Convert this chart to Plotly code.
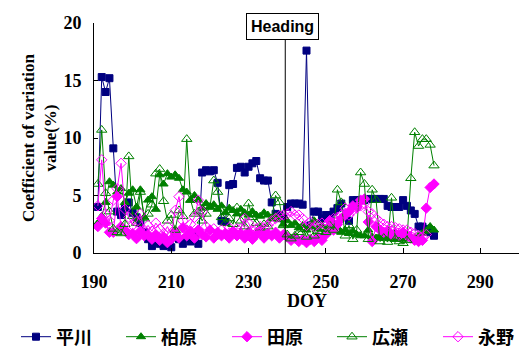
import plotly.graph_objects as go

# Day of year for each observation
doy = list(range(191, 279))

# Coefficient of variation (%) per site
hirakawa = [4.0, 15.3, 14.0, 15.2, 9.1, 3.6, 3.3, 3.9, 4.4, 3.5,
            3.1, 2.6, 1.8, 1.2, 0.6, 1.0, 0.8, 0.6, 0.7, 0.5,
            1.4, 1.2, 0.8, 1.3, 1.0, 1.5, 0.8, 7.0, 7.2, 7.1,
            7.2, 6.1, 2.8, 2.7, 5.9, 6.0, 7.4, 7.5, 7.0, 7.5,
            7.8, 8.0, 6.5, 6.3, 6.3, 4.4, 3.4, 3.3, 3.0, 4.0,
            4.3, 4.3, 4.3, 4.2, 17.6, 2.4, 3.6, 3.6, 3.0, 3.3,
            3.3, 3.6, 3.9, 4.3, 3.1, 2.8, 4.6, 4.6, 4.6, 4.6,
            4.7, 4.7, 4.7, 4.7, 4.7, 4.1, 4.0, 4.0, 4.0, 4.6,
            4.1, 3.7, 3.4, 2.3, 2.3, 2.1, 1.8, 1.5]

kashiwabara = [2.6, 3.2, 4.4, 6.2, 5.9, 5.3, 5.6, 4.4, 5.2, 5.5,
               4.0, 5.5, 3.1, 4.6, 4.9, 3.8, 6.8, 6.0, 6.9, 6.6,
               6.8, 6.5, 5.5, 5.3, 4.6, 5.0, 4.6, 3.9, 4.3, 4.0,
               4.2, 3.8, 4.1, 3.5, 3.9, 3.7, 3.4, 3.8, 3.5, 3.3,
               3.6, 3.3, 3.2, 3.5, 3.3, 3.0, 3.2, 2.9, 2.5, 2.8,
               2.4, 2.6, 2.2, 2.4, 2.0, 2.3, 2.8, 2.1, 2.4, 2.0,
               2.3, 1.9, 2.2, 1.8, 2.0, 1.7, 1.9, 1.6, 1.5, 1.5,
               2.0, 1.4, 1.3, 1.5, 1.3, 1.45, 1.25, 1.3, 1.4, 1.2,
               1.3, 1.25, 1.3, 1.5, 1.7, 1.9, 2.3, 2.0]

tahara = [2.3, 3.0, 2.6, 1.8, 1.8, 4.9, 2.3, 2.0, 1.6, 1.7,
          1.25, 1.9, 1.5, 1.6, 1.2, 1.6, 1.1, 1.4, 0.9, 1.2,
          1.8, 1.3, 2.2, 1.5, 1.9, 1.3, 2.0, 1.6, 1.4, 2.0,
          1.3, 1.8, 1.5, 1.7, 1.3, 1.9, 1.5, 1.7, 1.3, 1.8,
          1.2, 1.6, 1.9, 1.3, 1.7, 1.5, 1.8, 1.3, 1.6, 1.4,
          1.1, 1.3, 1.0, 1.2, 0.9, 1.2, 1.0, 1.4, 1.1, 1.6,
          2.8, 2.0, 2.5, 3.0, 3.3, 3.6, 4.1, 4.0, 4.6, 4.7,
          2.7, 1.0, 2.3, 2.0, 1.8, 1.9, 1.6, 1.7, 1.5, 1.8,
          1.5, 1.3, 1.1, 1.0, 1.1, 3.9, 5.7, 6.0]

hirose = [6.0, 10.7, 5.2, 3.6, 2.1, 1.8, 1.7, 2.5, 8.4, 3.2,
          2.6, 5.3, 3.0, 3.4, 4.2, 6.9, 7.3, 4.5, 2.8, 3.3,
          2.0, 3.7, 3.2, 9.9, 4.6, 3.4, 3.6, 2.8, 3.4, 4.0,
          6.3, 5.3, 3.1, 2.6, 3.0, 2.5, 3.95, 2.8, 2.3, 4.3,
          3.1, 2.6, 2.2, 2.5, 2.3, 3.0, 5.0, 4.4, 2.4, 1.6,
          1.25, 1.5, 1.8, 2.1, 1.4, 2.4, 1.5, 1.9, 2.1, 1.8,
          2.4, 2.0, 5.5, 4.4, 1.5, 2.4, 1.2, 2.0, 7.0, 6.0,
          1.2, 5.5, 4.6, 1.0, 1.3, 0.95, 4.8, 1.2, 1.0, 0.85,
          1.1, 6.5, 10.5, 9.3, 9.9, 9.9, 9.4, 7.6]

nagano = [4.1, 8.1, 3.4, 2.8, 4.6, 5.6, 7.8, 3.8, 3.1, 2.4,
          2.7, 3.4, 2.0, 2.4, 1.9, 2.6, 2.1, 1.7, 2.3, 1.6,
          3.7, 4.9, 2.8, 2.0, 2.5, 3.1, 4.6, 3.6, 2.3, 1.8,
          2.1, 1.6, 2.0, 1.7, 2.2, 1.8, 2.1, 2.1, 3.0, 2.6,
          1.9, 2.1, 2.3, 2.2, 2.4, 2.8, 3.0, 3.2, 3.3, 3.4,
          3.6, 3.3, 3.3, 3.0, 2.4, 2.7, 2.3, 2.5, 2.6, 2.4,
          2.8, 3.0, 3.1, 3.3, 3.9, 3.3, 3.7, 3.9, 4.1, 4.3,
          3.6, 3.4, 3.0, 2.7, 2.5, 2.3, 2.3, 2.2, 2.1, 2.0,
          2.0, 1.8, 1.7, 1.5, 1.4, 1.6, None, None]

heading_doy = 239.5

NAVY = "#000080"
GREEN = "#008000"
MAGENTA = "#FF00FF"
SERIF = "Liberation Serif"
CJK = "Noto Sans CJK JP"

series = [
    ("平川", hirakawa, NAVY, "square", 7),
    ("柏原", kashiwabara, GREEN, "triangle-up", 8),
    ("田原", tahara, MAGENTA, "diamond", 8),
    ("広瀬", hirose, GREEN, "triangle-up-open", 9),
    ("永野", nagano, MAGENTA, "diamond-open", 8),
]

# Left edge (px) of each legend entry along the bottom row
legend_left_px = [16, 121, 227, 332, 438]
W, H = 529, 349

fig = go.Figure()
legend_layouts = {}
for i, (name, vals, color, symbol, size) in enumerate(series):
    lg = "legend" if i == 0 else f"legend{i + 1}"
    fig.add_trace(go.Scatter(
        x=doy, y=vals, name=name, mode="lines+markers", legend=lg,
        line=dict(color=color, width=1),
        marker=dict(symbol=symbol, size=size, color=color,
                    line=dict(color=color, width=1)),
    ))
    legend_layouts[lg] = dict(
        orientation="h", xref="container", yref="container",
        x=legend_left_px[i] / W, xanchor="left",
        y=1 - 337 / H, yanchor="middle",
        font=dict(family=CJK, size=18, color="black", weight="bold"),
        itemwidth=30, bgcolor="rgba(0,0,0,0)",
    )

# Heading marker: vertical line and boxed label
fig.add_shape(type="line", xref="x", yref="y",
              x0=heading_doy, x1=heading_doy, y0=0, y1=18.6,
              line=dict(color="black", width=1))
fig.add_annotation(x=heading_doy, xref="x", y=18.6, yref="y",
                   text="<b>Heading</b>", showarrow=False,
                   xanchor="center", yanchor="bottom", xshift=-3, yshift=-1,
                   font=dict(family="Liberation Sans", size=16, color="black"),
                   bordercolor="black", borderwidth=1, borderpad=4,
                   bgcolor="white")

# x-axis title
fig.add_annotation(x=0.5, xref="paper", y=-48 / 230, yref="paper",
                   text="<b>DOY</b>", showarrow=False,
                   xanchor="center", yanchor="middle",
                   font=dict(family=SERIF, size=18, color="black"))

fig.update_layout(
    width=W, height=H,
    margin=dict(l=94, r=10, t=23, b=96, autoexpand=False),
    paper_bgcolor="white", plot_bgcolor="white",
    font=dict(family=SERIF, color="black"),
    showlegend=True,
    xaxis=dict(range=[190, 300], dtick=20, tick0=190,
               showline=True, linecolor="black", linewidth=1,
               ticks="inside", ticklen=5, tickcolor="black",
               showgrid=False, zeroline=False, ticklabelstandoff=12,
               tickfont=dict(family=SERIF, size=18, weight="bold")),
    yaxis=dict(range=[0, 20], dtick=5, tick0=0,
               showline=True, linecolor="black", linewidth=1,
               ticks="inside", ticklen=4, tickcolor="black",
               showgrid=False, zeroline=False, ticklabelstandoff=8,
               tickfont=dict(family=SERIF, size=18, weight="bold"),
               title=dict(text="<b>Coefficient of variation<br>value(%)</b>",
                          standoff=2,
                          font=dict(family=SERIF, size=17))),
    **legend_layouts,
)

fig.write_html("out.html")
